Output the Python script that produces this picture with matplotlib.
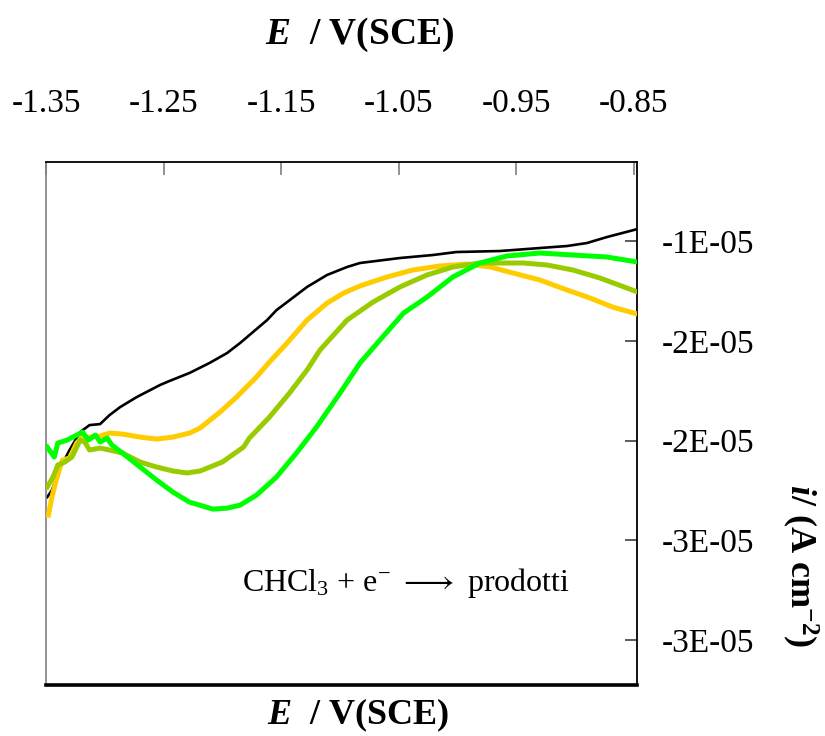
import matplotlib
matplotlib.use("Agg")
import matplotlib.pyplot as plt
import numpy as np

plt.rcParams["font.family"] = ["Liberation Serif", "DejaVu Serif"]
plt.rcParams["mathtext.fontset"] = "custom"
plt.rcParams["mathtext.rm"] = "Liberation Serif"
plt.rcParams["mathtext.it"] = "Liberation Serif:italic:bold"
plt.rcParams["mathtext.bf"] = "Liberation Serif:bold"

# potential (V vs SCE) and current density (units of 1e-5 A cm^-2)
E_black = [-1.349, -1.345, -1.338, -1.330, -1.321, -1.313, -1.304, -1.296, -1.287, -1.273,
           -1.253, -1.245, -1.228, -1.211, -1.196, -1.185, -1.174, -1.162, -1.154, -1.145,
           -1.128, -1.111, -1.094, -1.083, -1.049, -1.021, -1.001, -0.964, -0.930, -0.907,
           -0.890, -0.873, -0.847]
i_black = [-2.283, -2.248, -2.137, -2.047, -1.957, -1.922, -1.917, -1.872, -1.832, -1.782,
           -1.721, -1.701, -1.661, -1.611, -1.561, -1.511, -1.456, -1.396, -1.346, -1.306,
           -1.230, -1.170, -1.130, -1.110, -1.085, -1.070, -1.055, -1.050, -1.035, -1.025,
           -1.010, -0.980, -0.940]

E_orange = [-1.348, -1.345, -1.342, -1.338, -1.336, -1.330, -1.324, -1.319, -1.313, -1.304,
            -1.296, -1.285, -1.270, -1.256, -1.242, -1.228, -1.219, -1.202, -1.188, -1.171,
            -1.160, -1.145, -1.128, -1.111, -1.097, -1.083, -1.060, -1.038, -1.015, -0.992,
            -0.972, -0.953, -0.930, -0.907, -0.887, -0.868, -0.847]
i_orange = [-2.373, -2.283, -2.212, -2.132, -2.097, -2.087, -2.012, -1.982, -1.982, -1.977,
            -1.962, -1.967, -1.982, -1.992, -1.982, -1.962, -1.937, -1.857, -1.782, -1.681,
            -1.606, -1.511, -1.396, -1.311, -1.261, -1.225, -1.180, -1.145, -1.125, -1.115,
            -1.130, -1.160, -1.195, -1.245, -1.286, -1.331, -1.366]

E_olive = [-1.349, -1.344, -1.340, -1.334, -1.328, -1.321, -1.317, -1.313, -1.304, -1.296,
           -1.285, -1.270, -1.256, -1.242, -1.230, -1.219, -1.200, -1.182, -1.177, -1.160,
           -1.143, -1.128, -1.117, -1.094, -1.072, -1.049, -1.026, -1.004, -0.981, -0.944,
           -0.924, -0.902, -0.879, -0.847]
i_olive = [-2.232, -2.182, -2.122, -2.107, -2.082, -1.997, -2.007, -2.047, -2.037, -2.047,
           -2.062, -2.107, -2.132, -2.152, -2.162, -2.152, -2.107, -2.032, -1.987, -1.882,
           -1.762, -1.646, -1.546, -1.396, -1.306, -1.230, -1.170, -1.130, -1.110, -1.110,
           -1.120, -1.145, -1.185, -1.255]

E_green = [-1.349, -1.343, -1.340, -1.332, -1.319, -1.314, -1.308, -1.304, -1.298, -1.294,
           -1.285, -1.270, -1.256, -1.242, -1.228, -1.208, -1.196, -1.185, -1.171, -1.154,
           -1.137, -1.120, -1.100, -1.083, -1.066, -1.046, -1.026, -1.004, -0.981, -0.958,
           -0.930, -0.902, -0.873, -0.847]
i_green = [-2.032, -2.082, -2.012, -1.997, -1.957, -1.997, -1.972, -2.007, -1.987, -2.022,
           -2.062, -2.132, -2.197, -2.258, -2.308, -2.343, -2.338, -2.323, -2.273, -2.182,
           -2.062, -1.932, -1.762, -1.611, -1.496, -1.361, -1.281, -1.180, -1.110, -1.075,
           -1.060, -1.070, -1.080, -1.105]

x_ticks = [-1.35, -1.25, -1.15, -1.05, -0.95, -0.85]
x_tick_labels = ["-1.35", "-1.25", "-1.15", "-1.05", "-0.95", "-0.85"]
y_ticks = [-3.0e-5, -2.5e-5, -2.0e-5, -1.5e-5, -1.0e-5]
y_tick_labels = ["-3E-05", "-3E-05", "-2E-05", "-2E-05", "-1E-05"]

scale = 1e-5

fig = plt.figure(figsize=(8.25, 7.36), dpi=100)
ax = fig.add_axes([0.0558, 0.0693, 0.7163, 0.7106])

ax.plot(E_black, np.array(i_black) * scale, color="black", lw=1.9, zorder=2)
ax.plot(E_orange, np.array(i_orange) * scale, color="#FFCC00", lw=3.6, zorder=3)
ax.plot(E_olive, np.array(i_olive) * scale, color="#99CC00", lw=3.6, zorder=4)
ax.plot(E_green, np.array(i_green) * scale, color="#00FF00", lw=3.6, zorder=5)

ax.set_xlim(-1.35, -0.8474)
ax.set_ylim(-3.224e-5, -0.604e-5)

ax.xaxis.tick_top()
ax.set_xticks(x_ticks)
ax.set_xticklabels(x_tick_labels)
ax.yaxis.tick_right()
ax.set_yticks(y_ticks)
ax.set_yticklabels(y_tick_labels)

ax.tick_params(axis="x", direction="in", length=9, width=1.2, color="#808080",
               labelsize=24, pad=31)
ax.tick_params(axis="y", direction="in", length=9, width=1.2, color="#404040",
               labelsize=24, pad=18)

ax.spines["left"].set_color("#808080")
ax.spines["left"].set_linewidth(1.2)
ax.spines["bottom"].set_linewidth(2.6)
ax.spines["top"].set_linewidth(1.3)
ax.spines["right"].set_linewidth(1.3)

ax.text(0.332, 0.195, r"CHCl$_3$ + e$^{-}$ $\longrightarrow$ prodotti",
        transform=ax.transAxes, fontsize=23, va="center", ha="left")

fig.text(0.436, 1 - 35 / 736, r"$E$  / V(SCE)", fontsize=27, fontweight="bold",
         ha="center", va="center")
fig.text(0.434, 21 / 736, r"$E$  / V(SCE)", fontsize=26, fontweight="bold",
         ha="center", va="center")
fig.text(0.970, 0.232, r"$i$/ (A cm$^{\mathbf{-2}}$)", fontsize=26, fontweight="bold",
         rotation=270, ha="center", va="center")

fig.savefig("out.png", dpi=100)
